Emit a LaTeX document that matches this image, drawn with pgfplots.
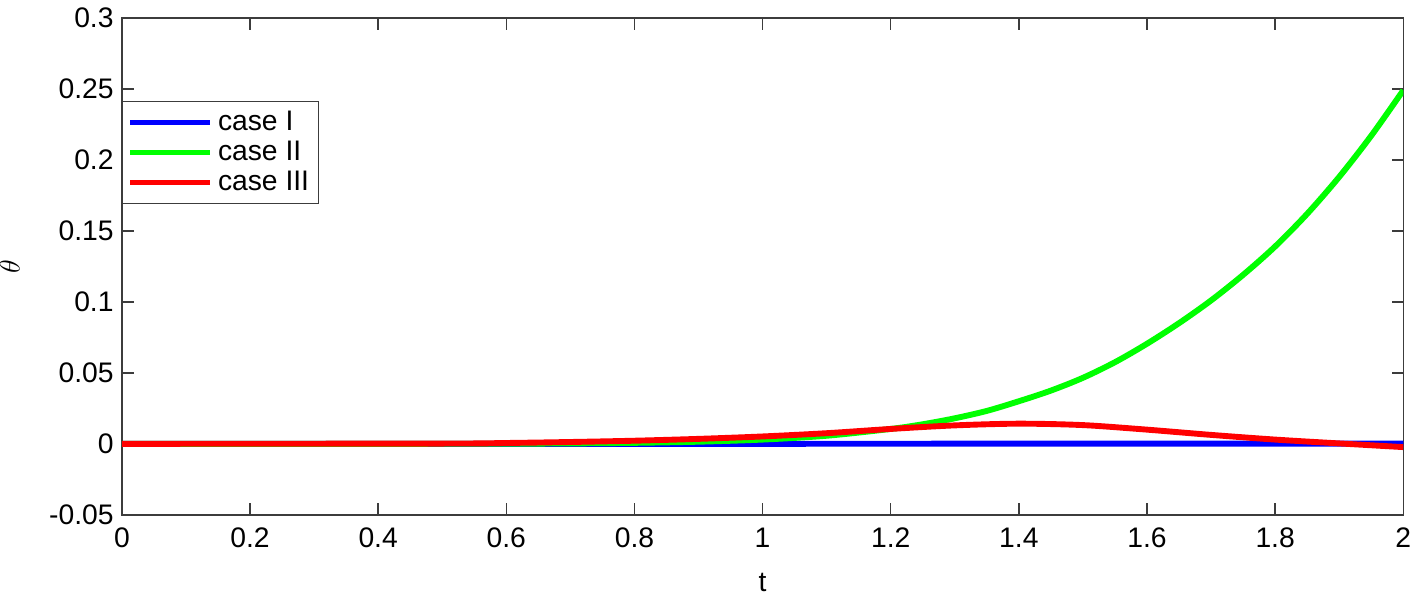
\documentclass[border=0pt]{standalone}
\usepackage{pgfplots}
\pgfplotsset{compat=1.18}
\usepackage{fontspec}
\setmainfont{Liberation Sans}

\definecolor{axgray}{RGB}{60,60,60}

\pgfplotstableread{
t theta
0.0 0
0.5 0
1.0 0
1.5 0.0002
2.0 0.0002
}\caseone

\pgfplotstableread{
t theta
0.0 0
0.5 0.00003
0.6 0.0001
0.7 0.0003
0.8 0.0007
0.9 0.0015
1.0 0.0030
1.1 0.0057
1.2 0.0105
1.25 0.0138
1.3 0.0180
1.35 0.0232
1.4 0.0300
1.45 0.0375
1.5 0.0465
1.55 0.0575
1.6 0.0705
1.65 0.0850
1.7 0.1010
1.75 0.1190
1.8 0.1390
1.85 0.1620
1.9 0.1880
1.95 0.2170
2.0 0.2490
}\casetwo

\pgfplotstableread{
t theta
0.0 0
0.5 0.0002
0.6 0.0006
0.7 0.0013
0.8 0.0022
0.9 0.0035
1.0 0.0052
1.1 0.0075
1.2 0.0105
1.3 0.0130
1.4 0.0142
1.5 0.0132
1.6 0.0100
1.7 0.0063
1.8 0.0030
1.9 0.0003
2.0 -0.0023
}\casethree

\begin{document}
\begin{tikzpicture}
\begin{axis}[
    scale only axis,
    width=544pt,
    height=211pt,
    xmin=0, xmax=2,
    ymin=-0.05, ymax=0.3,
    xtick={0,0.2,...,2},
    xticklabels={0,0.2,0.4,0.6,0.8,1,1.2,1.4,1.6,1.8,2},
    ytick={-0.05,0,0.05,0.1,0.15,0.2,0.25,0.3},
    yticklabels={-0.05,0,0.05,0.1,0.15,0.2,0.25,0.3},
    tick align=inside,
    major tick length=5pt,
    axis line style={axgray, line width=0.6pt},
    every tick/.style={axgray, line width=0.6pt},
    tick label style={font=\fontsize{12}{14}\selectfont},
    xticklabel style={yshift=-2pt},
    xlabel={t},
    ylabel={$\theta$},
    label style={font=\fontsize{12}{14}\selectfont},
    xlabel style={yshift=-4pt},
    ylabel style={inner sep=0pt, yshift=9pt},
    legend style={
        at={(0,0.833)}, anchor=north west,
        draw=axgray, line width=0.6pt,
        font=\fontsize{12}{14}\selectfont,
        inner sep=2pt, row sep=-1pt,
        cells={anchor=west},
    },
    legend image code/.code={
        \draw[#1, line width=2.5pt] (0pt,0pt) -- (34pt,0pt);
    },
]
\addplot[blue, line width=2.5pt] table[x=t, y=theta] {\caseone};
\addlegendentry{case I}
\addplot[green, line width=2.5pt, smooth] table[x=t, y=theta] {\casetwo};
\addlegendentry{case II}
\addplot[red, line width=2.5pt, smooth] table[x=t, y=theta] {\casethree};
\addlegendentry{case III}
\end{axis}
\end{tikzpicture}
\end{document}
